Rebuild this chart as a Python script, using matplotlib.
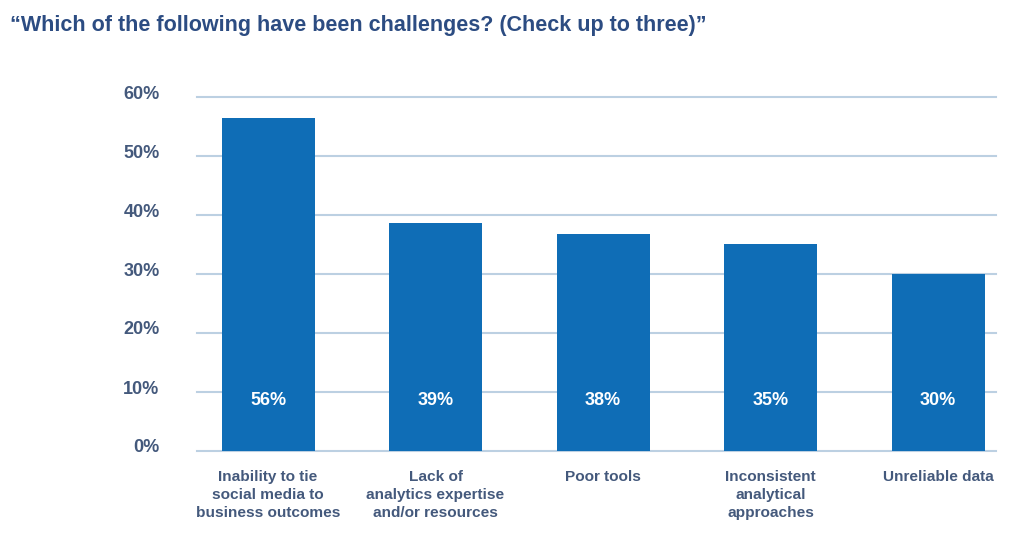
import matplotlib
matplotlib.use("Agg")
import matplotlib.pyplot as plt
import matplotlib.transforms as mtransforms

categories = ["Inability to tie\nsocial media to\nbusiness outcomes",
              "Lack of\nanalytics expertise\nand/or resources",
              "Poor tools",
              "Inconsistent\nanalytical\napproaches",
              "Unreliable data"]
values = [56.4, 38.6, 36.8, 35.1, 30.0]
value_labels = ["56%", "39%", "38%", "35%", "30%"]
yticks = [0, 10, 20, 30, 40, 50, 60]
ytick_labels = ["0%", "10%", "20%", "30%", "40%", "50%", "60%"]
title = "\u201cWhich of the following have been challenges? (Check up to three)\u201d"

plt.rcParams['font.family'] = ['Liberation Sans', 'DejaVu Sans']

bar_color = "#0f6db6"
text_color = "#44597c"
title_color = "#2c4c82"
grid_color = "#bcd0e2"

fig = plt.figure(figsize=(10.24, 5.47), dpi=100)
ax = fig.add_axes([197/1024, 1-451/547, (996-197)/1024, (451-97)/547])

x = list(range(len(categories)))
ax.set_axisbelow(True)
for t in yticks:
    ax.axhline(t, color=grid_color, lw=1.5, zorder=0, clip_on=False)
ax.bar(x, values, width=0.555, color=bar_color, zorder=2)
for xi, lab in zip(x, value_labels):
    ax.text(xi, 8.6, lab, ha="center", va="center", color="white",
            fontsize=13, fontweight="bold", zorder=3)

ax.set_xlim(-0.424, 4.346)
ax.set_ylim(0, 60)
ax.set_yticks(yticks)
ax.set_yticklabels(ytick_labels, fontsize=13, fontweight="bold", color=text_color)
ax.set_xticks(x)
ax.set_xticklabels(categories, fontsize=11.1, fontweight="bold", color=text_color,
                   linespacing=1.33, va="top")
ax.tick_params(axis="y", length=0, pad=27)
ax.tick_params(axis="x", length=0, pad=14)
offset = mtransforms.ScaledTranslation(0, 5/100, fig.dpi_scale_trans)
for lbl in ax.get_yticklabels():
    lbl.set_transform(lbl.get_transform() + offset)
for s in ax.spines.values():
    s.set_visible(False)

fig.text(10/1024, 1-26/547, title, ha="left", va="center", fontsize=15.5,
         fontweight="bold", color=title_color)

fig.savefig("out.png", dpi=100, facecolor="white")
